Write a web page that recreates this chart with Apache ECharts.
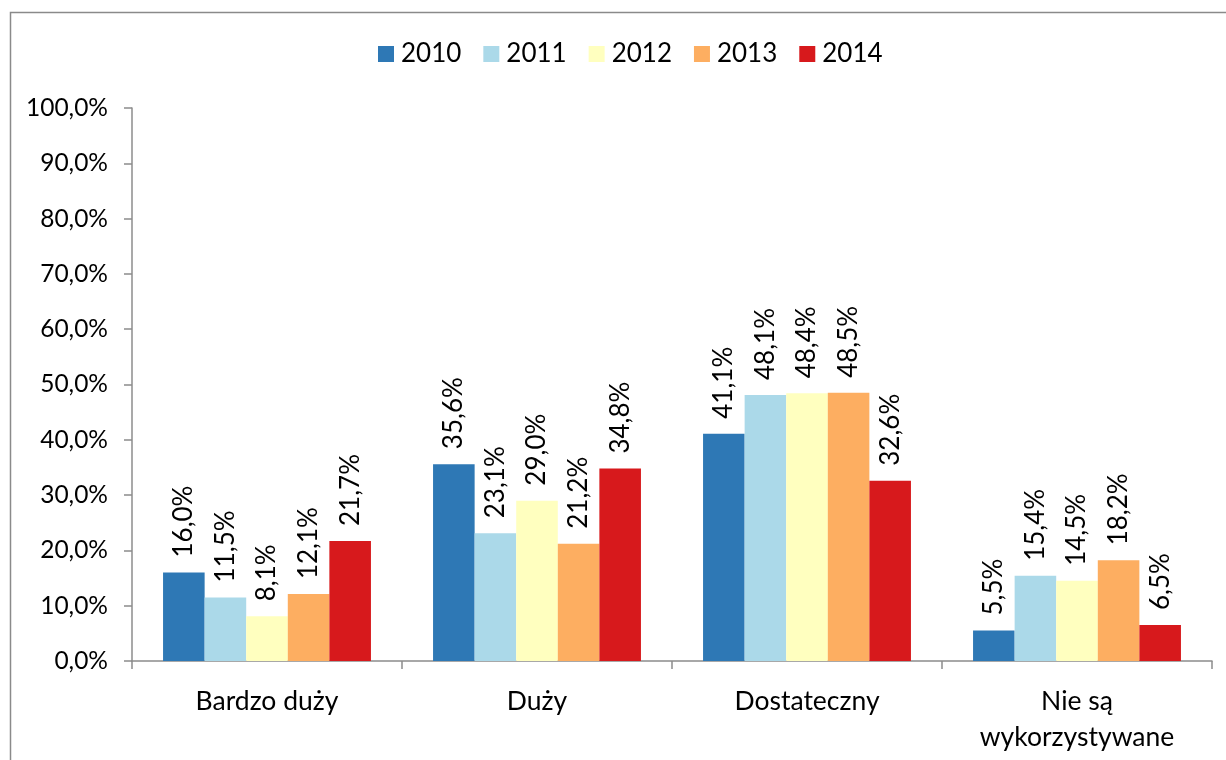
<!DOCTYPE html>
<html>
<head>
<meta charset="utf-8">
<script src="https://cdn.jsdelivr.net/npm/echarts@6/dist/echarts.min.js"></script>
<style>
  html, body { margin: 0; padding: 0; background: #fff; }
  #chart { width: 1226px; height: 760px; }
</style>
</head>
<body>
<div id="chart"></div>
<script>
// Ocena stopnia wykorzystania — udział odpowiedzi w latach 2010–2014
const categories = ['Bardzo duży', 'Duży', 'Dostateczny', 'Nie są\nwykorzystywane'];
const years = ['2010', '2011', '2012', '2013', '2014'];
const v2010 = [16.0, 35.6, 41.1, 5.5];
const v2011 = [11.5, 23.1, 48.1, 15.4];
const v2012 = [8.1, 29.0, 48.4, 14.5];
const v2013 = [12.1, 21.2, 48.5, 18.2];
const v2014 = [21.7, 34.8, 32.6, 6.5];
const yTicks = { min: 0, max: 100, interval: 10 };

const valuesByYear = [v2010, v2011, v2012, v2013, v2014];
const colors = ['#2E78B5', '#ABD9E9', '#FFFFBF', '#FDAE61', '#D7191C'];
const FONT = 'Lato';
const pct = v => v.toFixed(1).replace('.', ',') + '%';

const chart = echarts.init(document.getElementById('chart'), null, { renderer: 'canvas' });

chart.setOption({
  animation: false,
  backgroundColor: '#fff',
  textStyle: { fontFamily: FONT, color: '#000' },
  graphic: [{
    type: 'rect',
    shape: { x: 10.5, y: 12.5, width: 1400, height: 900 },
    style: { fill: 'none', stroke: '#8a8a8a', lineWidth: 1.5 },
    silent: true
  }],
  legend: {
    top: 36,
    left: 373,
    itemWidth: 16,
    itemHeight: 16,
    itemGap: 22,
    icon: 'rect',
    textStyle: { fontFamily: FONT, fontSize: 26, color: '#000', padding: [0, 0, 0, 2] },
    data: years
  },
  grid: { left: 132, right: 14, top: 108, bottom: 99, containLabel: false },
  xAxis: {
    type: 'category',
    data: categories,
    axisLine: { lineStyle: { color: '#8c8c8c', width: 1.5 } },
    axisTick: { show: true, length: 8, lineStyle: { color: '#8c8c8c', width: 1.5 } },
    axisLabel: { fontFamily: FONT, fontSize: 26.5, color: '#000', margin: 22, lineHeight: 36, interval: 0 }
  },
  yAxis: {
    type: 'value',
    min: yTicks.min,
    max: yTicks.max,
    interval: yTicks.interval,
    splitLine: { show: false },
    axisLine: { show: true, lineStyle: { color: '#8c8c8c', width: 1.5 } },
    axisTick: { show: true, length: 8, lineStyle: { color: '#8c8c8c', width: 1.5 } },
    axisLabel: { fontFamily: FONT, fontSize: 24.5, color: '#000', margin: 24, formatter: pct }
  },
  series: years.map((y, i) => ({
    name: y,
    type: 'bar',
    data: valuesByYear[i],
    barGap: '0%',
    barCategoryGap: '23%',
    itemStyle: { color: colors[i] },
    label: {
      show: true,
      position: 'top',
      rotate: 90,
      align: 'left',
      verticalAlign: 'middle',
      distance: 15,
      fontFamily: FONT,
      fontSize: 26,
      color: '#000',
      formatter: p => pct(p.value)
    }
  }))
});
</script>
</body>
</html>
